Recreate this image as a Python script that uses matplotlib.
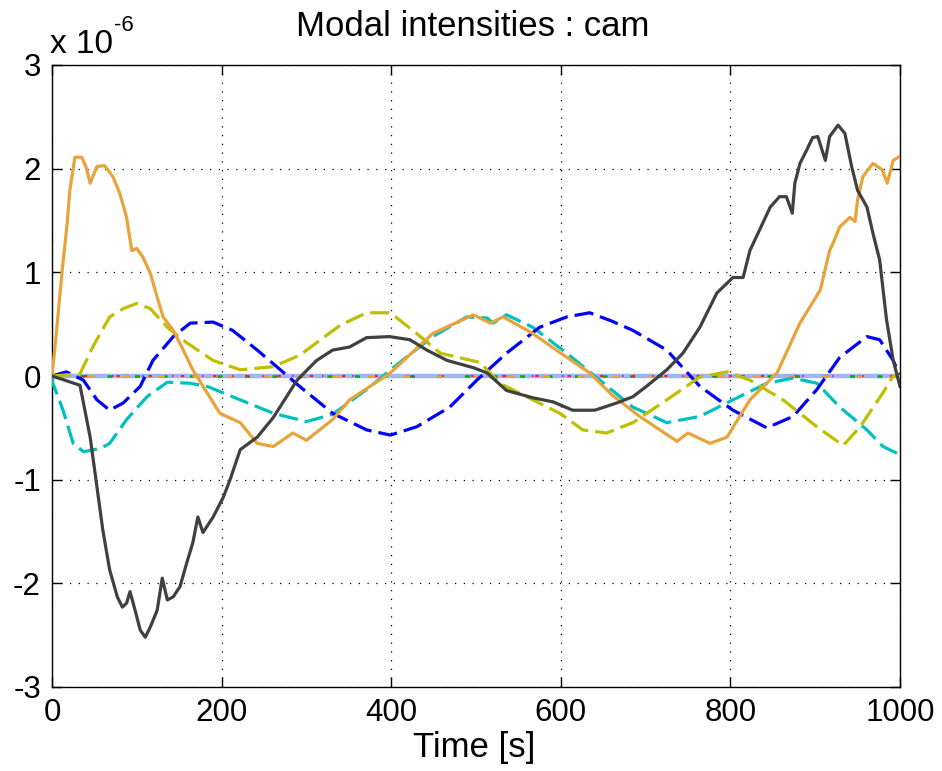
import matplotlib
matplotlib.use("Agg")
import matplotlib.pyplot as plt

plt.rcParams['font.family'] = ['Liberation Sans', 'DejaVu Sans']

# Data (values in units of 1e-6)
gray_t = [0, 15, 33, 45, 53, 60, 68, 77, 83, 88, 92, 98, 104, 110, 116, 124, 130, 136, 143, 151,
          159, 166, 172, 178, 190, 202, 210, 222, 242, 261, 289, 312, 331, 351, 371, 398, 422, 442,
          466, 497, 513, 536, 567, 591, 614, 640, 666, 685, 701, 725, 744, 764, 784, 803, 815, 823,
          847, 858, 866, 873, 876, 882, 890, 897, 903, 912, 917, 927, 935, 943, 950, 961, 968, 976,
          984, 992, 1000]
gray_v = [0, -0.04, -0.09, -0.59, -1.07, -1.49, -1.87, -2.13, -2.23, -2.19, -2.08, -2.26, -2.45,
          -2.52, -2.42, -2.26, -1.95, -2.16, -2.13, -2.03, -1.80, -1.61, -1.36, -1.51, -1.36, -1.17,
          -1.00, -0.71, -0.59, -0.40, -0.04, 0.15, 0.25, 0.28, 0.37, 0.38, 0.35, 0.25, 0.15, 0.08,
          0.03, -0.14, -0.21, -0.25, -0.33, -0.33, -0.26, -0.20, -0.10, 0.06, 0.22, 0.47, 0.80, 0.95,
          0.95, 1.21, 1.63, 1.73, 1.73, 1.57, 1.86, 2.05, 2.18, 2.30, 2.31, 2.08, 2.31, 2.42, 2.34,
          2.02, 1.79, 1.63, 1.38, 1.12, 0.55, 0.15, -0.10]

orange_t = [0, 5, 12, 18, 21, 27, 35, 40, 45, 53, 62, 72, 80, 88, 94, 100, 107, 116, 124, 131, 143,
            153, 166, 198, 222, 242, 261, 284, 300, 331, 351, 375, 399, 449, 497, 517, 532, 567, 600,
            634, 660, 693, 737, 750, 776, 796, 823, 855, 882, 906, 917, 921, 929, 941, 947, 950, 956,
            968, 979, 985, 992, 1000]
orange_v = [0, 0.40, 1.02, 1.48, 1.79, 2.11, 2.11, 2.02, 1.86, 2.02, 2.03, 1.92, 1.76, 1.53, 1.21,
            1.23, 1.15, 0.99, 0.76, 0.57, 0.44, 0.28, 0.06, -0.36, -0.45, -0.65, -0.68, -0.55, -0.62,
            -0.42, -0.23, -0.10, 0.03, 0.41, 0.59, 0.51, 0.57, 0.41, 0.22, 0.03, -0.18, -0.39, -0.63,
            -0.55, -0.65, -0.59, -0.23, 0.03, 0.51, 0.83, 1.21, 1.28, 1.44, 1.53, 1.49, 1.70, 1.92,
            2.05, 1.99, 1.86, 2.08, 2.12]

yellow_t = [0, 33, 48, 68, 84, 100, 116, 136, 159, 190, 222, 261, 292, 340, 371, 399, 430, 458, 505,
            528, 567, 599, 626, 654, 685, 725, 764, 796, 823, 862, 902, 933, 953, 980, 992, 1000]
yellow_v = [0, 0.02, 0.28, 0.57, 0.65, 0.70, 0.65, 0.47, 0.32, 0.15, 0.06, 0.09, 0.20, 0.49, 0.61,
            0.61, 0.41, 0.22, 0.13, -0.07, -0.23, -0.36, -0.52, -0.55, -0.45, -0.23, -0.01, 0.04,
            -0.04, -0.23, -0.49, -0.67, -0.49, -0.16, 0.0, 0.0]

blue_t = [0, 17, 37, 53, 68, 84, 104, 119, 143, 163, 190, 213, 242, 265, 292, 331, 371, 399, 430,
          469, 501, 536, 575, 607, 634, 660, 685, 725, 764, 803, 843, 874, 902, 929, 961, 976, 992,
          1000]
blue_v = [0, 0.04, -0.04, -0.23, -0.33, -0.26, -0.10, 0.15, 0.38, 0.51, 0.52, 0.44, 0.25, 0.09,
          -0.10, -0.36, -0.52, -0.57, -0.49, -0.30, -0.04, 0.22, 0.47, 0.57, 0.61, 0.53, 0.44, 0.25,
          -0.10, -0.33, -0.50, -0.39, -0.13, 0.18, 0.38, 0.35, 0.15, 0.0]

cyan_t = [0, 1, 13, 25, 37, 57, 68, 88, 112, 136, 163, 183, 222, 261, 300, 331, 371, 410, 449, 489,
          513, 520, 536, 567, 607, 646, 685, 725, 764, 803, 843, 874, 902, 929, 961, 980, 1000]
cyan_v = [0, -0.07, -0.33, -0.65, -0.73, -0.70, -0.65, -0.42, -0.20, -0.06, -0.07, -0.10, -0.23,
          -0.36, -0.44, -0.37, -0.13, 0.13, 0.38, 0.57, 0.56, 0.51, 0.59, 0.47, 0.22, -0.04, -0.30,
          -0.45, -0.39, -0.23, -0.07, -0.02, -0.07, -0.30, -0.52, -0.68, -0.76]

zero_t = [0, 1000]
zero_v = [0, 0]

xticks = [0, 200, 400, 600, 800, 1000]
yticks = [-3, -2, -1, 0, 1, 2, 3]

fig = plt.figure(figsize=(9.42, 7.71), dpi=100)
ax = fig.add_axes([52 / 942, 1 - 687 / 771, 848 / 942, 622 / 771])

# near-zero modes
ax.plot(zero_t, zero_v, color='#9fb6f2', lw=3.2, zorder=2)
ax.plot(zero_t, zero_v, color='#00b000', lw=1.8, dashes=(2, 9), zorder=2.1)
ax.plot(zero_t, zero_v, color='#ff2020', lw=1.6, dashes=(1.5, 13), zorder=2.1)
ax.plot(zero_t, zero_v, color='#e8a33a', lw=1.8, dashes=(3, 11), zorder=2.1)
ax.plot(zero_t, zero_v, color='#e000e0', lw=1.2, dashes=(1, 17), zorder=2.1)

dash = (6, 2.2)
ax.plot(cyan_t, cyan_v, color='#00bfbf', lw=2.3, dashes=dash, zorder=3)
ax.plot(blue_t, blue_v, color='#0000ff', lw=2.3, dashes=dash, zorder=3)
ax.plot(yellow_t, yellow_v, color='#bfbf00', lw=2.3, dashes=dash, zorder=3)
ax.plot(orange_t, orange_v, color='#e8a33a', lw=2.3, zorder=3)
ax.plot(gray_t, gray_v, color='#404040', lw=2.3, zorder=3)

ax.set_xlim(0, 1000)
ax.set_ylim(-3, 3)
ax.set_xticks(xticks)
ax.set_yticks(yticks)
ax.set_xticklabels([str(v) for v in xticks])
ax.set_yticklabels([str(v) for v in yticks])
ax.tick_params(direction='in', length=7, width=1, top=True, right=True, labelsize=22.5,
               pad=8, colors='black')
ax.grid(True, color='black', linestyle=(0, (1, 6)), linewidth=0.9)
for s in ax.spines.values():
    s.set_linewidth(1.0)

fig.text(473 / 942, 1 - 26 / 771, 'Modal intensities : cam', ha='center', va='center', fontsize=25)
fig.text(474 / 942, 1 - 747 / 771, 'Time [s]', ha='center', va='center', fontsize=25)
fig.text(50 / 942, 1 - 53 / 771, 'x 10', ha='left', va='baseline', fontsize=24)
fig.text(114 / 942, 1 - 31 / 771, '-6', ha='left', va='baseline', fontsize=16)

fig.savefig('out.png', dpi=100)
